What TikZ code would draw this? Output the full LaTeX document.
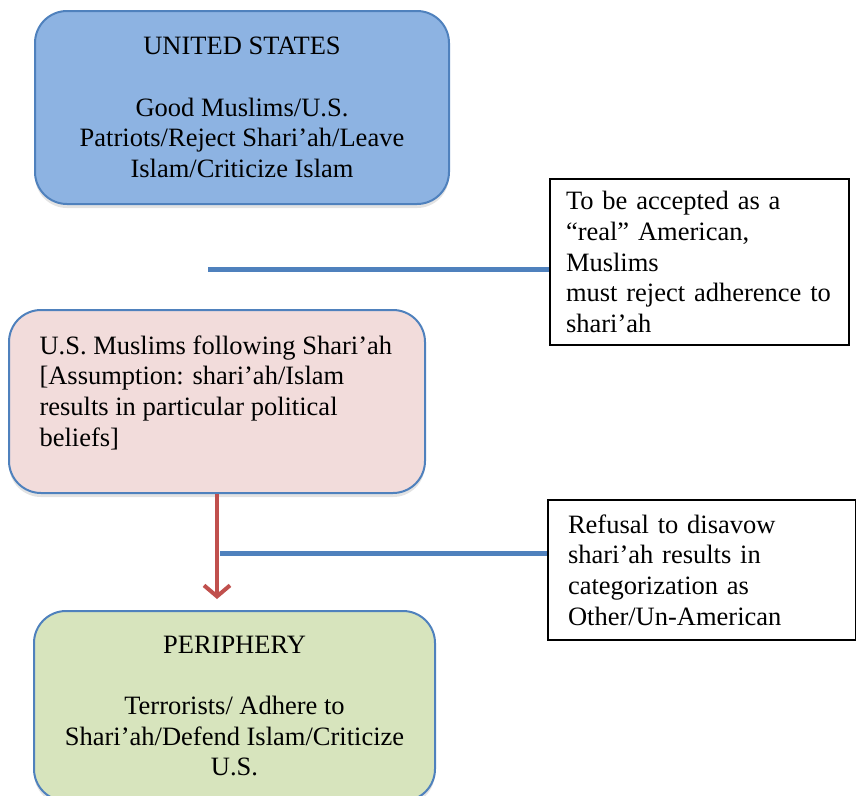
\documentclass[tikz,border=0pt]{standalone}
\usepackage{fontspec}
\setmainfont{Liberation Serif}
\usetikzlibrary{arrows.meta,shadows}
\definecolor{usblue}{HTML}{8DB3E2}
\definecolor{edgeblue}{HTML}{4F81BD}
\definecolor{shariahpink}{HTML}{F2DCDB}
\definecolor{peripherygreen}{HTML}{D7E4BD}
\definecolor{fatered}{HTML}{C0504D}
\tikzset{
  zone/.style={draw=edgeblue, line width=2pt, rounded corners=32pt, align=center,
    font=\fontsize{26.5}{30.7}\selectfont,
    drop shadow={shadow xshift=0pt, shadow yshift=-4pt, opacity=0.22}},
  note/.style={draw=black, line width=2pt, align=left, anchor=north west,
    font=\fontsize{26.5}{30.7}\selectfont},
  link/.style={edgeblue, line width=5pt},
  fate/.style={fatered, line width=4pt, -{Straight Barb[length=11pt,width=26pt]}, shorten >=11pt}
}
\begin{document}
\begin{tikzpicture}[x=1pt,y=-1pt]
   \useasboundingbox (0,0) rectangle (856,795);
   \node[zone, fill=usblue, minimum width=414pt, minimum height=193pt] (us) at (242,107.5)
     {UNITED STATES\\[30.7pt] Good Muslims/U.S.\\ Patriots/Reject Shari’ah/Leave\\ Islam/Criticize Islam};
   \node[zone, fill=shariahpink, minimum width=416pt, minimum height=183pt] (shariah) at (217,401.5) {};
   \node[anchor=north west, align=left, font=\fontsize{26.5}{30.7}\selectfont] (shariahtext)
     at ([xshift=28pt,yshift=-23pt]shariah.north west)
     {U.S. Muslims following Shari’ah\\ {[}Assumption: shari’ah/Islam\\ results in particular political\\ beliefs]};
   \node[zone, fill=peripherygreen, minimum width=401pt, minimum height=190pt] (periphery) at (234.5,706)
     {PERIPHERY\\[30.7pt] Terrorists/ Adhere to\\ Shari’ah/Defend Islam/Criticize\\ U.S.};
   \node[note, text width=267pt, inner xsep=16pt, minimum height=166pt] (accepted) at (549,178)
     {To be accepted as a\\ “real” American,\\ Muslims\\ must reject adherence to\\ shari’ah};
   \node[note, text width=268pt, inner xsep=20pt, minimum height=140pt] (refusal) at (547,499)
     {Refusal to disavow\\ shari’ah results in\\ categorization as\\ Other/Un-American};
   \coordinate (gap) at (208,269);
   \coordinate (split) at (220,553);
   \draw[fate] (shariah.south) -- (shariah.south |- periphery.north);
   \draw[link] (gap) -- (gap -| accepted.west);
   \draw[link] (split) -- (split -| refusal.west);
\end{tikzpicture}
\end{document}
